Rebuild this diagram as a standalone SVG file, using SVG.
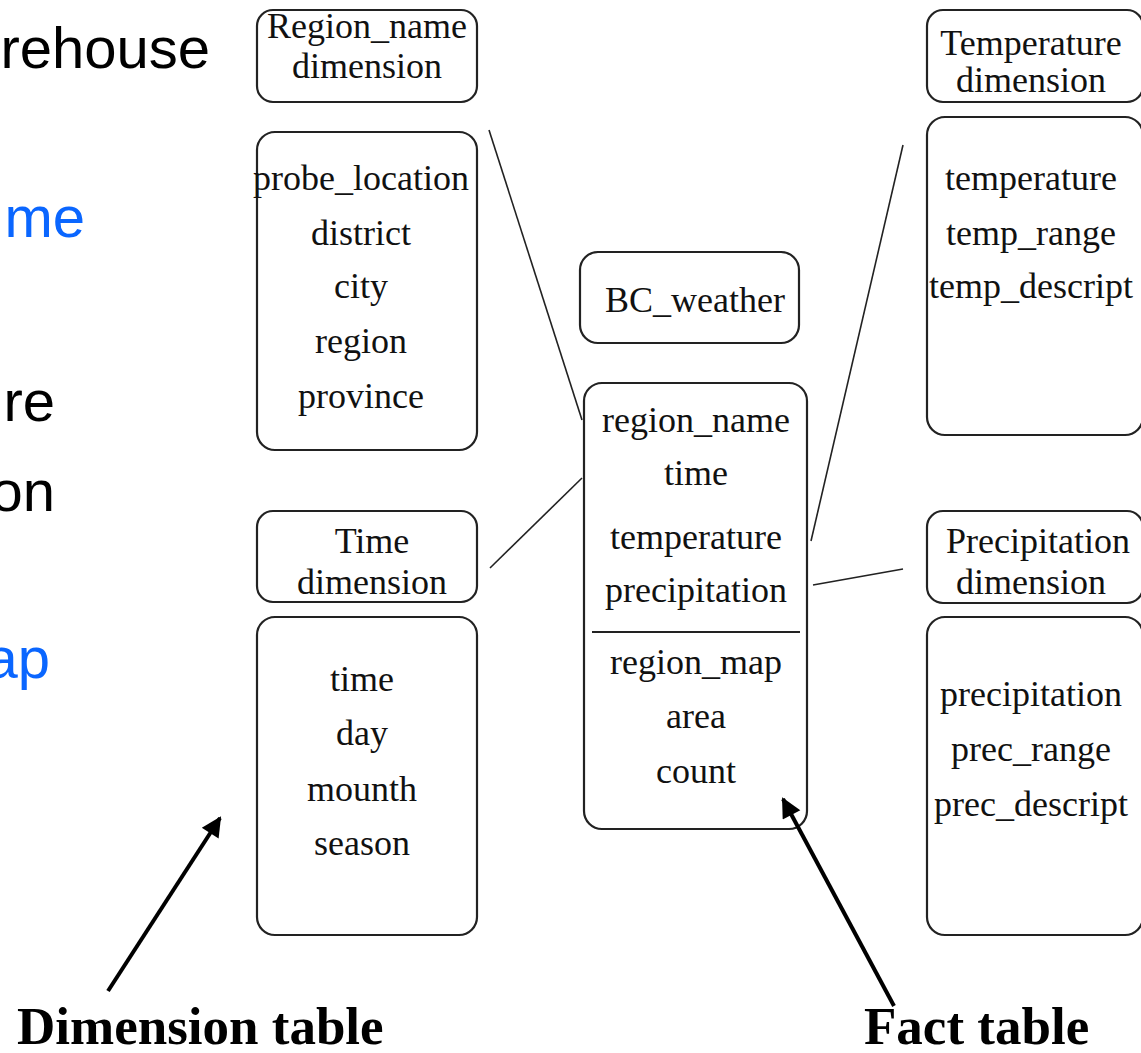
<svg xmlns="http://www.w3.org/2000/svg" width="1141" height="1053" viewBox="0 0 1141 1053">
<style>
.box{fill:#fff;stroke:#222;stroke-width:2.2}
.t{font-family:"Liberation Serif","Times New Roman",serif;font-size:36px;fill:#111;text-anchor:middle}
.slide{font-family:"Liberation Sans",Arial,sans-serif;font-size:58px}
.conn{stroke:#222;stroke-width:1.6;fill:none}
.ptr{stroke:#000;stroke-width:4;fill:none}
.cap{font-family:"Liberation Serif","Times New Roman",serif;font-size:53px;font-weight:bold;fill:#000}
</style>
<defs>
<marker id="ah" viewBox="0 0 10 10" refX="9" refY="5" markerWidth="5.5" markerHeight="5" orient="auto" markerUnits="strokeWidth">
<path d="M0,0 L10,5 L0,10 z" fill="#000"/>
</marker>
</defs>
<rect width="1141" height="1053" fill="#fff"/>
<g id="slide-text">
<text class="slide" x="210" y="68" text-anchor="end" fill="#000">rehouse</text>
<text class="slide" x="85" y="237" text-anchor="end" fill="#0a66ff">me</text>
<text class="slide" x="55" y="421" text-anchor="end" fill="#000">re</text>
<text class="slide" x="55" y="511" text-anchor="end" fill="#000">on</text>
<text class="slide" x="50" y="678" text-anchor="end" fill="#0a66ff">ap</text>
</g>
<g id="connectors">
<line class="conn" x1="489" y1="130" x2="582" y2="420"/>
<line class="conn" x1="490" y1="568" x2="582" y2="478"/>
<line class="conn" x1="903" y1="145" x2="811" y2="541"/>
<line class="conn" x1="813" y1="585" x2="903" y2="569"/>
</g>
<g id="region-dim">
<rect class="box" x="257" y="10" width="220" height="92" rx="16"/>
<text class="t" x="367" y="38">Region_name</text>
<text class="t" x="367" y="78">dimension</text>
</g>
<g id="region-fields">
<rect class="box" x="257" y="132" width="220" height="318" rx="18"/>
<text class="t" x="361" y="190">probe_location</text>
<text class="t" x="361" y="245">district</text>
<text class="t" x="361" y="298">city</text>
<text class="t" x="361" y="353">region</text>
<text class="t" x="361" y="408">province</text>
</g>
<g id="time-dim">
<rect class="box" x="257" y="511" width="220" height="91" rx="16"/>
<text class="t" x="372" y="553">Time</text>
<text class="t" x="372" y="594">dimension</text>
</g>
<g id="time-fields">
<rect class="box" x="257" y="617" width="220" height="318" rx="18"/>
<text class="t" x="362" y="691">time</text>
<text class="t" x="362" y="745">day</text>
<text class="t" x="362" y="801">mounth</text>
<text class="t" x="362" y="855">season</text>
</g>
<g id="bc-weather">
<rect class="box" x="580" y="252" width="219" height="91" rx="18"/>
<text class="t" x="695" y="312">BC_weather</text>
</g>
<g id="fact-table">
<rect class="box" x="584" y="383" width="223" height="446" rx="18"/>
<line x1="592" y1="632" x2="800" y2="632" stroke="#222" stroke-width="2.2"/>
<text class="t" x="696" y="432">region_name</text>
<text class="t" x="696" y="485">time</text>
<text class="t" x="696" y="549">temperature</text>
<text class="t" x="696" y="602">precipitation</text>
<text class="t" x="696" y="674">region_map</text>
<text class="t" x="696" y="728">area</text>
<text class="t" x="696" y="783">count</text>
</g>
<g id="temperature-dim">
<rect class="box" x="927" y="10" width="216" height="92" rx="16"/>
<text class="t" x="1031" y="55">Temperature</text>
<text class="t" x="1031" y="92">dimension</text>
</g>
<g id="temperature-fields">
<rect class="box" x="927" y="117" width="216" height="318" rx="18"/>
<text class="t" x="1031" y="190">temperature</text>
<text class="t" x="1031" y="245">temp_range</text>
<text class="t" x="1031" y="298">temp_descript</text>
</g>
<g id="precipitation-dim">
<rect class="box" x="927" y="511" width="216" height="92" rx="16"/>
<text class="t" x="1038" y="553">Precipitation</text>
<text class="t" x="1031" y="594">dimension</text>
</g>
<g id="precipitation-fields">
<rect class="box" x="927" y="617" width="216" height="318" rx="18"/>
<text class="t" x="1031" y="706">precipitation</text>
<text class="t" x="1031" y="761">prec_range</text>
<text class="t" x="1031" y="816">prec_descript</text>
</g>
<g id="pointers">
<line class="ptr" x1="108" y1="991" x2="220" y2="818" marker-end="url(#ah)"/>
<line class="ptr" x1="894" y1="1006" x2="783" y2="799" marker-end="url(#ah)"/>
<text class="cap" x="17" y="1044">Dimension table</text>
<text class="cap" x="864" y="1044">Fact table</text>
</g>
</svg>
